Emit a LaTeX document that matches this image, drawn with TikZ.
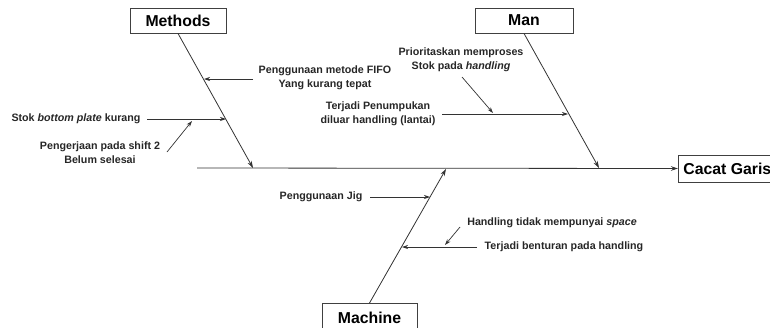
\documentclass[tikz,border=0pt]{standalone}
\usepackage{fontspec}
\setmainfont{Liberation Sans}
\usetikzlibrary{arrows.meta}
\begin{document}
\begin{tikzpicture}[x=1pt,y=-1pt,
  box/.style={draw=black!75,line width=0.9pt,fill=white,minimum height=25pt,inner sep=0pt,font=\bfseries\fontsize{15.8}{17}\selectfont},
  cause/.style={font=\bfseries\fontsize{10.7}{14}\selectfont,align=center,inner sep=0pt,text=black!85},
  bone/.style={draw=black!80,line width=0.8pt,-{Stealth[length=7pt,width=4.5pt]}},
  sub/.style={draw=black!80,line width=0.7pt,-{Stealth[length=6pt,width=4pt]}}]
\useasboundingbox (0,0) rectangle (770,327);
% boxes
\node[box,minimum width=96pt] (methods) at (178,20.5) {Methods};
\node[box,minimum width=98pt] (man) at (524,20.5) {Man};
\node[box,minimum width=95pt,minimum height=28pt,anchor=north] (machine) at (369.5,303) {Machine};
\node[box,minimum height=27pt,anchor=west,inner xsep=5pt,text depth=0pt] (effect) at (678,168.5) {Cacat Garis\hspace{10pt}};
% spine coordinates
\coordinate (tail) at (197,168);
\coordinate (mspine) at (253,168);
\coordinate (nspine) at (599,168);
\coordinate (cspine) at (446,169);
\draw[bone] (tail) -- (effect.west);
\draw[bone] (methods.south) -- (mspine);
\draw[bone] (man.south) -- (nspine);
\draw[bone] (machine.north) -- (cspine);
% Methods causes
\node[cause] (fifo) at (325,78) {Penggunaan metode FIFO\\Yang kurang tepat};
\coordinate (fifoS) at (253,79);
\coordinate (fifoE) at (204,79);
\draw[sub] (fifoS) -- (fifoE);
\node[cause] (stok) at (76,119) {Stok \textit{bottom plate} kurang};
\coordinate (stokS) at (147,119);
\coordinate (stokE) at (226,119);
\draw[sub] (stokS) -- (stokE);
\node[cause] (shift) at (100,152.5) {Pengerjaan pada shift 2\\Belum selesai};
\coordinate (shiftS) at (167,152);
\coordinate (shiftE) at (192,121);
\draw[sub] (shiftS) -- (shiftE);
% Man causes
\node[cause] (prior) at (461,60) {Prioritaskan memproses\\Stok pada \textit{handling}};
\coordinate (priorS) at (462,77);
\coordinate (priorE) at (493,113);
\draw[sub] (priorS) -- (priorE);
\node[cause] (tumpuk) at (378,113.5) {Terjadi Penumpukan\\diluar handling (lantai)};
\coordinate (tumpukS) at (442,114);
\coordinate (tumpukE) at (568,114);
\draw[sub] (tumpukS) -- (tumpukE);
% Machine causes
\node[cause] (jig) at (321,197) {Penggunaan Jig};
\coordinate (jigS) at (370,197);
\coordinate (jigE) at (430,197);
\draw[sub] (jigS) -- (jigE);
\node[cause] (space) at (552,223) {Handling tidak mempunyai \textit{space}};
\coordinate (spaceS) at (460,227);
\coordinate (spaceE) at (445,245);
\draw[sub] (spaceS) -- (spaceE);
\node[cause] (bentur) at (564,247) {Terjadi benturan pada handling};
\coordinate (benturS) at (477,247);
\coordinate (benturE) at (402,247);
\draw[sub] (benturS) -- (benturE);
\end{tikzpicture}
\end{document}
